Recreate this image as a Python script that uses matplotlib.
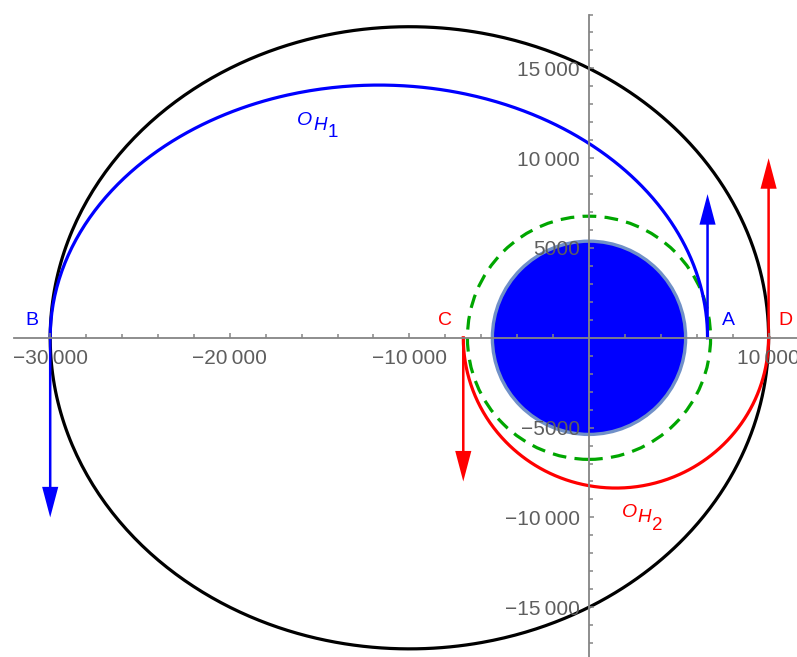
import numpy as np
import matplotlib
matplotlib.use("Agg")
import matplotlib.pyplot as plt
from matplotlib.patches import Circle, FancyArrow
from matplotlib.ticker import FixedLocator, FuncFormatter

plt.rcParams["font.family"] = ["Liberation Sans", "DejaVu Sans"]

# Orbit geometry (km), all conics share the focus at the origin
earth_radius = 5380
parking_radius = 6770
outer_peri, outer_apo = 10000, 30000     # large black ellipse (periapsis on +x)
h1_peri, h1_apo = 6600, 30000            # transfer O_H1: A -> B, upper half
h2_peri, h2_apo = 7000, 10000            # transfer O_H2: C -> D, lower half (periapsis on -x)

# Velocity arrows: (x, length) along y
arrow_x = [h1_peri, -h1_apo, -h2_peri, h2_apo]
arrow_len = [8000, -10000, -8000, 10000]
arrow_col = ["blue", "blue", "red", "red"]

# Point labels
point_names = ["B", "A", "C", "D"]
point_x = [-31040, 7740, -8020, 10940]
point_y = [990, 990, 990, 990]
point_col = ["blue", "blue", "red", "red"]

# Orbit name labels: anchor of the "O", subscript index, colour
orbit_label_x = [-16236, 1821]
orbit_label_y = [11849, -9994]
orbit_label_idx = ["1", "2"]
orbit_label_col = ["blue", "red"]

# Axis ticks
x_major = [-30000, -20000, -10000, 10000]
x_minor = [v for v in range(-30000, 10001, 2000) if v != 0]
y_major = [-15000, -10000, -5000, 5000, 10000, 15000]
y_minor = [v for v in range(-17000, 18001, 1000) if v != 0]

x_lim = (-32795, 11581)
y_lim = (-17773, 18808)


def conic(peri, apo, theta, flip=False):
    e = (apo - peri) / (apo + peri)
    p = 2 * peri * apo / (apo + peri)
    sign = -1 if flip else 1
    r = p / (1 + sign * e * np.cos(theta))
    return r * np.cos(theta), r * np.sin(theta)


def fmt(v, _pos=None):
    v = int(round(v))
    s = f"{abs(v):,}" if abs(v) >= 10000 else f"{abs(v)}"
    s = s.replace(",", "\u2009")
    return ("\u2212" + s) if v < 0 else s


fig = plt.figure(figsize=(7.97, 6.57), dpi=100)
ax = fig.add_axes([0, 0, 1, 1])
ax.set_xlim(*x_lim)
ax.set_ylim(*y_lim)

axis_grey = "#858585"
label_grey = "#5e5e5e"

# Earth
ax.add_patch(Circle((0, 0), earth_radius, facecolor="#0000ff",
                    edgecolor="#7090c8", lw=2.4, zorder=1))
# Parking orbit
ax.add_patch(Circle((0, 0), parking_radius, fill=False, edgecolor="#00a600",
                    lw=2.3, linestyle=(0, (4.3, 2.6)), zorder=2))

t_full = np.linspace(0, 2 * np.pi, 600)
xo, yo = conic(outer_peri, outer_apo, t_full)
ax.plot(xo, yo, color="black", lw=2.3, zorder=3)

t_up = np.linspace(0, np.pi, 400)
x1, y1 = conic(h1_peri, h1_apo, t_up)
ax.plot(x1, y1, color="blue", lw=2.3, zorder=3)

t_dn = np.linspace(np.pi, 2 * np.pi, 400)
x2, y2 = conic(h2_peri, h2_apo, t_dn, flip=True)
ax.plot(x2, y2, color="red", lw=2.3, zorder=3)

for x, L, c in zip(arrow_x, arrow_len, arrow_col):
    ax.add_patch(FancyArrow(x, 0, 0, L, width=140, head_width=900,
                            head_length=1700, length_includes_head=True,
                            color=c, lw=0, zorder=4))

for name, x, y, c in zip(point_names, point_x, point_y, point_col):
    ax.text(x, y, name, color=c, fontsize=14, ha="center", va="center", zorder=5)

# O_{H_n}: italic O, italic H lowered, upright index lowered further
for x, y, idx, c in zip(orbit_label_x, orbit_label_y, orbit_label_idx, orbit_label_col):
    ax.text(x, y, "O", color=c, fontsize=14, style="italic",
            ha="left", va="baseline", zorder=5)
    ax.annotate("H", xy=(x, y), xytext=(11.4, -3.6), textcoords="offset points",
                color=c, fontsize=13.5, style="italic",
                ha="left", va="baseline", zorder=5)
    ax.annotate(idx, xy=(x, y), xytext=(22.0, -9.0), textcoords="offset points",
                color=c, fontsize=13.5, ha="left", va="baseline", zorder=5)

# Axes crossing at the origin
for side in ("top", "right"):
    ax.spines[side].set_visible(False)
ax.spines["bottom"].set_position(("data", 0))
ax.spines["left"].set_position(("data", 0))
ax.spines["bottom"].set_bounds(-32000, x_lim[1])
ax.spines["left"].set_bounds(y_lim[0], 18000)
for side in ("bottom", "left"):
    ax.spines[side].set_color(axis_grey)
    ax.spines[side].set_linewidth(1.3)
    ax.spines[side].set_zorder(10)

ax.xaxis.set_major_locator(FixedLocator(x_major))
ax.xaxis.set_minor_locator(FixedLocator(x_minor))
ax.yaxis.set_major_locator(FixedLocator(y_major))
ax.yaxis.set_minor_locator(FixedLocator(y_minor))
ax.xaxis.set_major_formatter(FuncFormatter(fmt))
ax.yaxis.set_major_formatter(FuncFormatter(fmt))
ax.tick_params(which="both", direction="in", color=axis_grey, width=1.1,
               labelcolor=label_grey, labelsize=15)
ax.tick_params(which="major", length=3.8)
ax.tick_params(which="minor", length=3.0)
ax.tick_params(axis="x", which="major", pad=8.0)
ax.tick_params(axis="y", which="major", pad=6.5)
ax.xaxis.set_zorder(10)
ax.yaxis.set_zorder(10)

fig.savefig("out.png", dpi=100)
